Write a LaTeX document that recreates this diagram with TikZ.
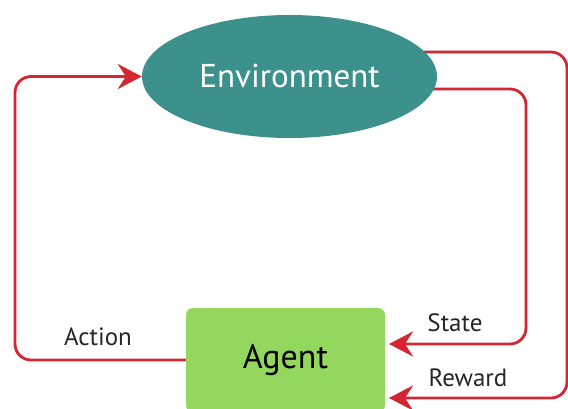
\documentclass[tikz,border=0pt]{standalone}
\usepackage{fontspec}
\setmainfont{PT Sans}
\usetikzlibrary{arrows.meta,backgrounds,calc,shapes.geometric}
\definecolor{envteal}{RGB}{60,145,140}
\definecolor{agentgreen}{RGB}{148,215,95}
\definecolor{flowred}{RGB}{212,38,50}
\tikzset{
  envnode/.style={ellipse, fill=envteal, minimum width=295pt, minimum height=123pt, inner sep=0pt, text=white, font=\fontsize{33}{36}\selectfont},
  agentbox/.style={rectangle, rounded corners=7pt, fill=agentgreen, minimum width=199pt, minimum height=104pt, inner sep=0pt, text=black, font=\fontsize{34}{38}\selectfont},
  flow/.style={draw=flowred, line width=2.8pt, rounded corners=16pt, -{Stealth[length=24pt,width=25pt,inset=8pt]}},
  flowlabel/.style={text=black!85, font=\fontsize{25}{28}\selectfont, inner sep=0pt}
}
\begin{document}
\begin{tikzpicture}[x=1pt,y=-1pt]
\useasboundingbox (0,0) rectangle (568,409);
\clip (0,0) rectangle (568,409);
\node[envnode] (env) at (289.5,76.5) {Environment};
\node[agentbox] (agent) at (285.5,360) {Agent};
\coordinate (aL) at (15,200);
\coordinate (sR) at (526,200);
\coordinate (rR) at (567,200);
\coordinate (stEnd) at (389,344);
\coordinate (rwEnd) at (389,398);
\begin{scope}[on background layer]
\fill[white] (0,0) rectangle (568,409);
\draw[flow] (agent.west) -| (aL) |- (env.west);
\draw[flow] ([yshift=-12.5pt]env.center) -| (sR) |- (stEnd);
\draw[flow] ([yshift=24.5pt]env.center) -| (rR) |- (rwEnd);
\end{scope}
\node[flowlabel] (action) at (98,337) {Action};
\node[flowlabel] (state) at (455,323) {State};
\node[flowlabel] (reward) at (468,378) {Reward};
\end{tikzpicture}
\end{document}
